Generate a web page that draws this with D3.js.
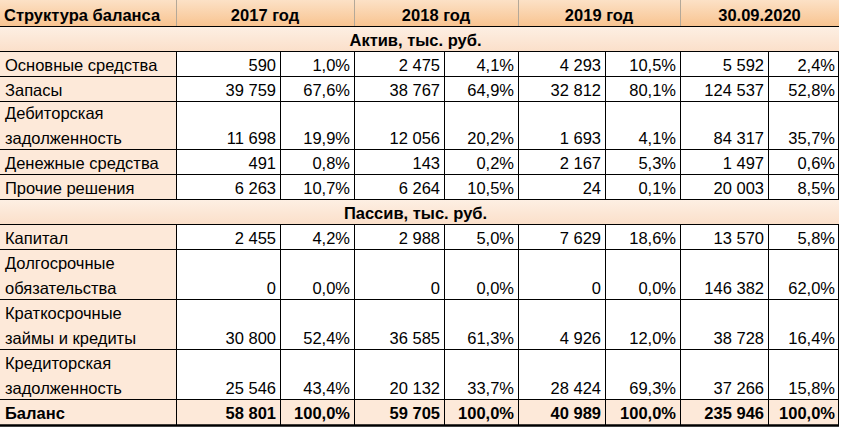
<!DOCTYPE html>
<html><head><meta charset="utf-8">
<script src="https://cdn.jsdelivr.net/npm/d3@7"></script>
<style>body{margin:0;background:#fff}svg{display:block}</style>
</head><body>
<svg id="t" width="841" height="428"></svg>
<script>
// ---- data ----
const titleLabel = "Структура баланса";
const periods = ["2017 год", "2018 год", "2019 год", "30.09.2020"];
const sectionAssets = "Актив, тыс. руб.";
const sectionLiab = "Пассив, тыс. руб.";
const assetLabels = ["Основные средства", "Запасы", "Дебиторская\nзадолженность", "Денежные средства", "Прочие решения"];
const liabLabels = ["Капитал", "Долгосрочные\nобязательства", "Краткосрочные\nзаймы и кредиты", "Кредиторская\nзадолженность"];
const totalLabel = "Баланс";
// values (тыс. руб.) : assets (5) then liabilities (4) then total
const values2017 = [590, 39759, 11698, 491, 6263, 2455, 0, 30800, 25546, 58801];
const values2018 = [2475, 38767, 12056, 143, 6264, 2988, 0, 36585, 20132, 59705];
const values2019 = [4293, 32812, 1693, 2167, 24, 7629, 0, 4926, 28424, 40989];
const values2020 = [5592, 124537, 84317, 1497, 20003, 13570, 146382, 38728, 37266, 235946];
const shares2017 = [1.0, 67.6, 19.9, 0.8, 10.7, 4.2, 0.0, 52.4, 43.4, 100.0];
const shares2018 = [4.1, 64.9, 20.2, 0.2, 10.5, 5.0, 0.0, 61.3, 33.7, 100.0];
const shares2019 = [10.5, 80.1, 4.1, 5.3, 0.1, 18.6, 0.0, 12.0, 69.3, 100.0];
const shares2020 = [2.4, 52.8, 35.7, 0.6, 8.5, 5.8, 62.0, 16.4, 15.8, 100.0];

// ---- layout ----
const colWidths = [176, 104, 74, 90, 74, 87, 75, 88, 71];
const F = "'Liberation Sans', Arial, sans-serif";
const FS = 16.5;

const loc = d3.formatLocale({decimal: ",", thousands: "\u00a0", grouping: [3], currency: ["", ""]});
const fmtV = loc.format(",.0f");
const fmtP = v => loc.format(",.1f")(v) + "%";

const allValues = [values2017, values2018, values2019, values2020];
const allShares = [shares2017, shares2018, shares2019, shares2020];

// rows
const rows = [];
rows.push({type: "header", h: 27});
rows.push({type: "section", label: sectionAssets, h: 25});
assetLabels.forEach((l, i) => rows.push({type: "data", label: l, idx: i, h: l.includes("\n") ? 48 : 25}));
rows.push({type: "section", label: sectionLiab, h: 25});
liabLabels.forEach((l, i) => rows.push({type: "data", label: l, idx: i + 5, h: l.includes("\n") ? 50 : 25}));
rows.push({type: "total", label: totalLabel, idx: 9, h: 25});

let acc = 0;
rows.forEach(r => { r.y0 = acc; acc += r.h; r.y1 = acc; });
const tableH = acc;

const colEdges = [0, ...d3.cumsum(colWidths)];
const x = d3.scaleOrdinal().domain(d3.range(colEdges.length)).range(colEdges);
const y = d3.scaleLinear().domain([0, tableH]).range([0, tableH]);
const W = colEdges[colEdges.length - 1];

const svg = d3.select("#t");
const defs = svg.append("defs");
const g1 = defs.append("linearGradient").attr("id", "hdr").attr("x1", 0).attr("x2", 0).attr("y1", 0).attr("y2", 1);
g1.append("stop").attr("offset", 0).attr("stop-color", "#fce1c6");
g1.append("stop").attr("offset", 1).attr("stop-color", "#f8c38f");
const g2 = defs.append("linearGradient").attr("id", "sec").attr("x1", 0).attr("x2", 0).attr("y1", 0).attr("y2", 1);
g2.append("stop").attr("offset", 0).attr("stop-color", "#fdefe3");
g2.append("stop").attr("offset", 1).attr("stop-color", "#fbdfc9");

const peach = "#fde9d9";

// backgrounds
rows.forEach(r => {
  if (r.type === "header") {
    svg.append("rect").attr("x", 0).attr("y", y(r.y0)).attr("width", W).attr("height", r.h).attr("fill", "url(#hdr)");
  } else if (r.type === "section") {
    svg.append("rect").attr("x", 0).attr("y", y(r.y0)).attr("width", W).attr("height", r.h).attr("fill", "url(#sec)");
  } else if (r.type === "total") {
    svg.append("rect").attr("x", 0).attr("y", y(r.y0)).attr("width", W).attr("height", r.h).attr("fill", peach);
  } else {
    svg.append("rect").attr("x", 0).attr("y", y(r.y0)).attr("width", x(1)).attr("height", r.h).attr("fill", peach);
  }
});

// header vertical separators (gray)
[1, 3, 5, 7].forEach(c => {
  svg.append("line").attr("x1", x(c) + 0.5).attr("x2", x(c) + 0.5).attr("y1", 0).attr("y2", rows[0].y1)
    .attr("stroke", "#b4a898").attr("stroke-width", 1);
});

// horizontal grid lines
rows.forEach((r, i) => {
  if (i === rows.length - 1) return;
  svg.append("line").attr("x1", 0).attr("x2", W).attr("y1", y(r.y1) - 0.5).attr("y2", y(r.y1) - 0.5)
    .attr("stroke", "#000").attr("stroke-width", 1);
});
// vertical grid lines in data rows
rows.filter(r => r.type === "data" || r.type === "total").forEach(r => {
  d3.range(1, colEdges.length).forEach(c => {
    const xx = c === colEdges.length - 1 ? x(c) - 0.5 : x(c) + 0.5;
    svg.append("line").attr("x1", xx).attr("x2", xx).attr("y1", y(r.y0)).attr("y2", y(r.y1))
      .attr("stroke", "#000").attr("stroke-width", 1);
  });
});
// bottom thick border
svg.append("line").attr("x1", 0).attr("x2", W).attr("y1", y(tableH) + 0.5).attr("y2", y(tableH) + 0.5)
  .attr("stroke", "#000").attr("stroke-width", 2.5);

// text
const txt = (xx, yy, s, anchor, bold) => svg.append("text").attr("x", xx).attr("y", yy).attr("text-anchor", anchor)
  .attr("font-family", F).attr("font-size", FS).attr("font-weight", bold ? "bold" : "normal").attr("fill", "#000").text(s);

rows.forEach(r => {
  const base = y(r.y1) - 6;
  if (r.type === "header") {
    txt(4, base, titleLabel, "start", true);
    periods.forEach((p, k) => txt((x(1 + 2 * k) + x(3 + 2 * k)) / 2, base, p, "middle", true));
  } else if (r.type === "section") {
    txt(W / 2 - 4, base, r.label, "middle", true);
  } else {
    const bold = r.type === "total";
    const lines = r.label.split("\n");
    lines.forEach((l, j) => txt(5, base - (lines.length - 1 - j) * 25, l, "start", bold));
    allValues.forEach((vals, k) => {
      txt(x(2 + 2 * k) - 4, base, fmtV(vals[r.idx]), "end", bold);
      txt(x(3 + 2 * k) - 4, base, fmtP(allShares[k][r.idx]), "end", bold);
    });
  }
});
</script>
</body></html>
